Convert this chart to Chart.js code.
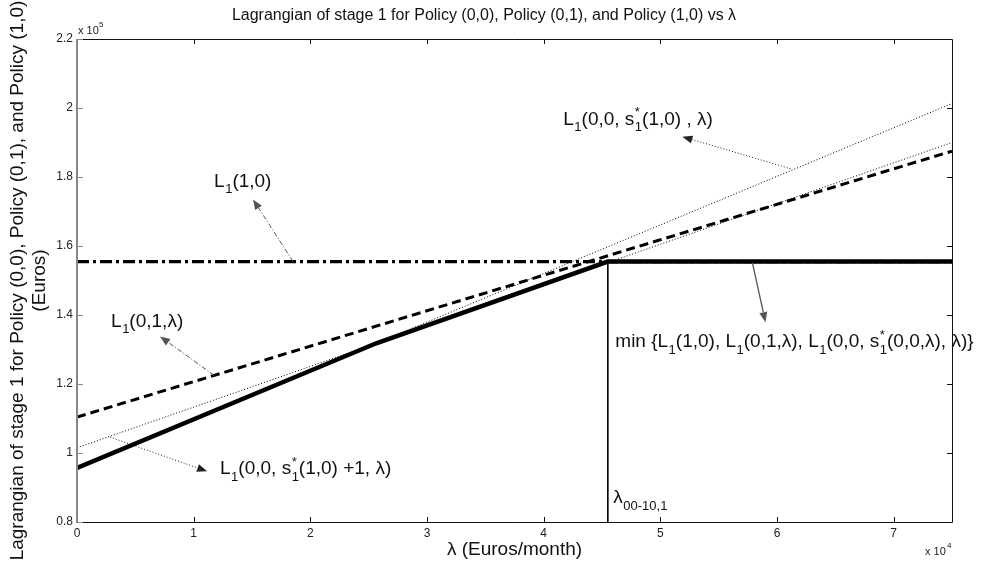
<!DOCTYPE html>
<html lang="en">
<head>
  <meta charset="UTF-8" />
  <title>Lagrangian of stage 1 vs lambda</title>
  <script src="https://cdn.jsdelivr.net/npm/chart.js"></script>
  <style>
    body {
      margin: 0;
      background: #ffffff;
    }
    #chart {
      display: block;
    }
  </style>
</head>
<body>
  <canvas id="chart" width="983" height="568"></canvas>

  <script>
    // lambda (Euros/month) at both ends of the straight lines
    const lambdaEnds = [0, 75000];
    // L1(1,0) : flat
    const policy10 = [155500, 155500];
    // L1(0,1,lambda)
    const policy01 = [110400, 187500];
    // L1(0,0, s1*(1,0), lambda)
    const policy00Star = [95700, 201300];
    // L1(0,0, s1*(1,0)+1, lambda)
    const policy00StarPlus1 = [101500, 190000];
    // lower envelope (min of the three policies)
    const minLambda = [0, 25650, 45500, 75000];
    const minValues = [95700, 131800, 155500, 155500];
    // switching point lambda_00-10,1
    const lambdaSwitch = 45500;
    const yFloor = 80000;

    const xTicks = [0, 1, 2, 3, 4, 5, 6, 7];
    const yTicks = [0.8, 1, 1.2, 1.4, 1.6, 1.8, 2, 2.2];

    const FONT = '"Liberation Sans", Arial, sans-serif';

    const pts = (xs, ys) => xs.map((x, i) => ({ x: x, y: ys[i] }));

    // annotation texts: runs of [text, kind]
    const notes = [
      {
        runs: [['L', 'n'], ['1', 'sub'], ['(1,0)', 'n']],
        at: [11750, 178700],
        from: [18520, 155500], to: [15090, 173500],
        color: '#555', dash: [5, 2, 1, 2], width: 1
      },
      {
        runs: [['L', 'n'], ['1', 'sub'], ['(0,1,λ)', 'n']],
        at: [2920, 138100],
        from: [11750, 122500], to: [7120, 133800],
        color: '#555', dash: [5, 2, 1, 2], width: 1
      },
      {
        runs: [['L', 'n'], ['1', 'sub'], ['(0,0, s', 'n'], ['1', 'star'], ['(1,0) , λ)', 'n']],
        at: [41680, 196600],
        from: [61150, 182400], to: [51890, 191700],
        color: '#222', dash: [1, 2], width: 1
      },
      {
        runs: [['min {L', 'n'], ['1', 'sub'], ['(1,0), L', 'n'], ['1', 'sub'], ['(0,1,λ), L', 'n'],
               ['1', 'sub'], ['(0,0, s', 'n'], ['1', 'star'], ['(0,0,λ), λ)}', 'n']],
        at: [46140, 132100],
        from: [57890, 155200], to: [59010, 137900],
        color: '#555', dash: [], width: 1.3
      },
      {
        runs: [['L', 'n'], ['1', 'sub'], ['(0,0, s', 'n'], ['1', 'star'], ['(1,0) +1, λ)', 'n']],
        at: [12260, 95300],
        from: [2830, 104600], to: [11150, 94700],
        color: '#222', dash: [1, 2], width: 1
      },
      {
        runs: [['λ', 'n'], ['00-10,1', 'sub']],
        at: [45970, 86900]
      }
    ];

    function drawRuns(ctx, runs, x, y) {
      ctx.save();
      ctx.fillStyle = '#111';
      ctx.textBaseline = 'middle';
      ctx.textAlign = 'left';
      let cx = x;
      runs.forEach(([txt, kind]) => {
        if (kind === 'n') {
          ctx.font = '19px ' + FONT;
          ctx.fillText(txt, cx, y);
          cx += ctx.measureText(txt).width;
        } else {
          ctx.font = '13px ' + FONT;
          ctx.fillText(txt, cx + 0.5, y + 8);
          if (kind === 'star') ctx.fillText('*', cx + 0.5, y - 7);
          cx += ctx.measureText(txt).width + 0.5;
        }
      });
      ctx.restore();
    }

    function drawArrow(ctx, x1, y1, x2, y2, color, dash, width) {
      const ang = Math.atan2(y2 - y1, x2 - x1);
      const len = 10, half = 4;
      const bx = x2 - len * Math.cos(ang), by = y2 - len * Math.sin(ang);
      ctx.save();
      ctx.strokeStyle = color;
      ctx.fillStyle = color;
      ctx.lineWidth = width;
      ctx.setLineDash(dash);
      ctx.beginPath();
      ctx.moveTo(x1, y1);
      ctx.lineTo(bx, by);
      ctx.stroke();
      ctx.setLineDash([]);
      ctx.beginPath();
      ctx.moveTo(x2, y2);
      ctx.lineTo(bx + half * Math.sin(ang), by - half * Math.cos(ang));
      ctx.lineTo(bx - half * Math.sin(ang), by + half * Math.cos(ang));
      ctx.closePath();
      ctx.fill();
      ctx.restore();
    }

    const axesDecor = {
      id: 'axesDecor',
      beforeDraw(chart) {
        const ctx = chart.ctx;
        ctx.save();
        ctx.fillStyle = '#ffffff';
        ctx.fillRect(0, 0, chart.width, chart.height);
        ctx.restore();
      },
      afterDraw(chart) {
        const ctx = chart.ctx;
        const a = chart.chartArea;
        const xs = chart.scales.x, ys = chart.scales.y;

        // annotations
        notes.forEach(n => {
          if (n.from) {
            drawArrow(ctx,
              xs.getPixelForValue(n.from[0]), ys.getPixelForValue(n.from[1]),
              xs.getPixelForValue(n.to[0]), ys.getPixelForValue(n.to[1]),
              n.color, n.dash, n.width);
          }
          drawRuns(ctx, n.runs, xs.getPixelForValue(n.at[0]), ys.getPixelForValue(n.at[1]));
        });

        // box with inward ticks
        ctx.save();
        ctx.lineWidth = 1;
        const tl = 5;
        ctx.strokeStyle = '#111';
        ctx.beginPath();
        ctx.moveTo(a.left, a.top + 0.5); ctx.lineTo(a.right + 0.5, a.top + 0.5);
        ctx.lineTo(a.right + 0.5, a.bottom + 0.5); ctx.lineTo(a.left, a.bottom + 0.5);
        xs.ticks.forEach(t => {
          const px = Math.round(xs.getPixelForValue(t.value)) + 0.5;
          ctx.moveTo(px, a.bottom); ctx.lineTo(px, a.bottom - tl);
          ctx.moveTo(px, a.top); ctx.lineTo(px, a.top + tl);
        });
        ys.ticks.forEach(t => {
          const py = Math.round(ys.getPixelForValue(t.value)) + 0.5;
          ctx.moveTo(a.right, py); ctx.lineTo(a.right - tl, py);
        });
        ctx.stroke();
        ctx.strokeStyle = '#888';
        ctx.lineWidth = 2;
        ctx.beginPath();
        ctx.moveTo(a.left, a.top); ctx.lineTo(a.left, a.bottom + 1);
        ctx.stroke();
        ctx.lineWidth = 1;
        ctx.beginPath();
        ys.ticks.forEach(t => {
          const py = Math.round(ys.getPixelForValue(t.value)) + 0.5;
          ctx.moveTo(a.left, py); ctx.lineTo(a.left + tl + 1, py);
        });
        ctx.stroke();

        // exponent labels
        ctx.fillStyle = '#222';
        ctx.textBaseline = 'alphabetic';
        ctx.textAlign = 'left';
        ctx.font = '11px ' + FONT;
        ctx.fillText('x 10', a.left + 1, a.top - 5);
        ctx.font = '8px ' + FONT;
        ctx.fillText('5', a.left + 22, a.top - 12);
        ctx.font = '11px ' + FONT;
        ctx.fillText('x 10', a.right - 27, a.bottom + 33);
        ctx.font = '8px ' + FONT;
        ctx.fillText('4', a.right - 5, a.bottom + 26);

        // title
        ctx.font = '16px ' + FONT;
        ctx.fillStyle = '#111';
        ctx.textAlign = 'center';
        ctx.textBaseline = 'middle';
        ctx.fillText('Lagrangian of stage 1 for Policy (0,0), Policy (0,1), and Policy (1,0) vs λ',
          484, 16);
        ctx.restore();
      }
    };

    new Chart(document.getElementById('chart'), {
      type: 'scatter',
      data: {
        datasets: [
          {
            label: 'min',
            data: pts(minLambda, minValues),
            borderColor: '#000', borderWidth: 4.5, order: 0
          },
          {
            label: 'lambda switch',
            data: pts([lambdaSwitch, lambdaSwitch], [yFloor, minValues[2]]),
            borderColor: '#000', borderWidth: 1.6, order: 1
          },
          {
            label: 'L1(0,1,lambda)',
            data: pts(lambdaEnds, policy01),
            borderColor: '#000', borderWidth: 3, borderDash: [9, 5], order: 3
          },
          {
            label: 'L1(1,0)',
            data: pts(lambdaEnds, policy10),
            borderColor: '#000', borderWidth: 3.2, borderDash: [12, 4, 3, 4], order: 4
          },
          {
            label: 'L1(0,0,s*(1,0),lambda)',
            data: pts(lambdaEnds, policy00Star),
            borderColor: '#000', borderWidth: 1, borderDash: [1, 2], order: 2
          },
          {
            label: 'L1(0,0,s*(1,0)+1,lambda)',
            data: pts(lambdaEnds, policy00StarPlus1),
            borderColor: '#000', borderWidth: 1, borderDash: [1, 2], order: 2
          }
        ].map(d => Object.assign(d, { showLine: true, pointRadius: 0, fill: false, tension: 0 }))
      },
      options: {
        responsive: false,
        animation: false,
        devicePixelRatio: 1,
        layout: { padding: { left: 0, right: 31, top: 39, bottom: 0 } },
        plugins: {
          legend: { display: false },
          tooltip: { enabled: false },
          title: { display: false }
        },
        scales: {
          x: {
            type: 'linear',
            min: 0,
            max: 75000,
            grid: { display: false, drawTicks: false },
            border: { display: false },
            afterFit: s => { s.height = 46; },
            afterBuildTicks: s => { s.ticks = xTicks.map(v => ({ value: v * 1e4 })); },
            ticks: {
              padding: 4,
              color: '#222',
              font: { family: FONT, size: 12 },
              callback: v => String(v / 1e4)
            },
            title: {
              display: true,
              text: 'λ (Euros/month)',
              color: '#111',
              font: { family: FONT, size: 19, lineHeight: 1.2 },
              padding: { top: 0, bottom: 7 }
            }
          },
          y: {
            type: 'linear',
            min: 80000,
            max: 220000,
            grid: { display: false, drawTicks: false },
            border: { display: false },
            afterFit: s => { s.width = 77; },
            afterBuildTicks: s => { s.ticks = yTicks.map(v => ({ value: v * 1e5 })); },
            ticks: {
              padding: 4,
              color: '#222',
              font: { family: FONT, size: 12 },
              callback: v => String(parseFloat((v / 1e5).toFixed(1)))
            },
            title: {
              display: true,
              text: ['Lagrangian of stage 1 for Policy (0,0), Policy (0,1), and Policy (1,0)', '(Euros)'],
              color: '#111',
              font: { family: FONT, size: 19, lineHeight: 1.16 },
              padding: { top: 7, bottom: 0 }
            }
          }
        }
      },
      plugins: [axesDecor]
    });
  </script>
</body>
</html>
